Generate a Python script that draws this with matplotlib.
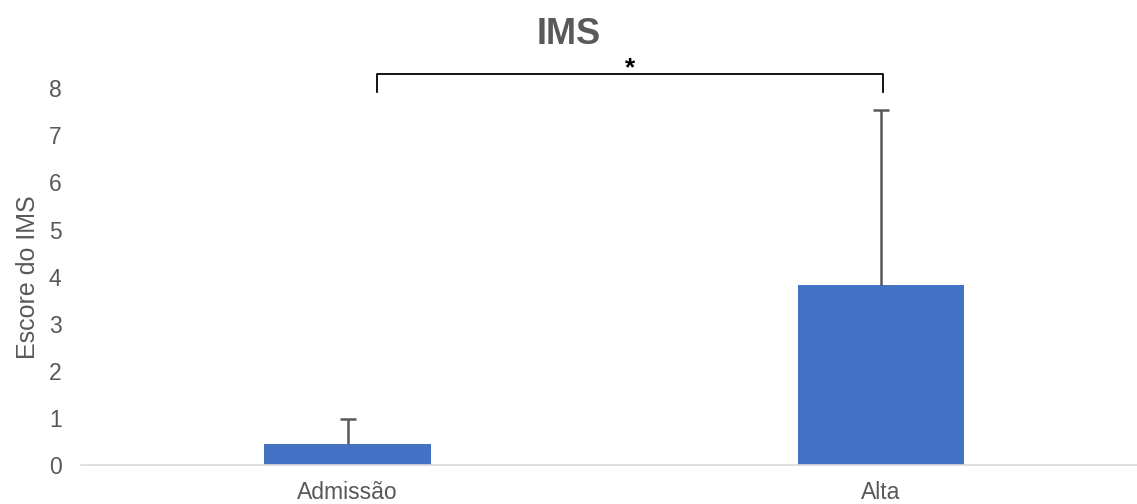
import matplotlib.pyplot as plt

plt.rcParams['font.family'] = ['Liberation Sans', 'DejaVu Sans']

# Dados
categorias = ['Admissão', 'Alta']
medias = [0.46, 3.82]
desvios = [0.52, 3.71]

cor_barra = '#4472C4'
cinza = '#595959'

fig = plt.figure(figsize=(11.37, 5.04), dpi=100)
ax = fig.add_axes([0.0712, 0.0764, 0.9288, 0.749])

x = range(len(categorias))
ax.bar(x, medias, width=0.313, color=cor_barra, zorder=2)
# so a barra de erro para cima
linha, caps, barras = ax.errorbar(x, medias, yerr=[[0, 0], desvios], fmt='none',
                                  ecolor=cinza, elinewidth=1.8, capsize=6,
                                  capthick=1.8, zorder=3)
caps[0].set_visible(False)

ax.set_xlim(-0.5, 1.48)
ax.set_ylim(0, 8)
ax.set_yticks(range(0, 9))
ax.set_xticks(list(x))
ax.set_xticklabels(categorias)

for lado in ['top', 'right', 'left']:
    ax.spines[lado].set_visible(False)
ax.spines['bottom'].set_color('#D9D9D9')
ax.spines['bottom'].set_linewidth(1.2)
ax.tick_params(axis='both', length=0, colors=cinza)
ax.tick_params(axis='y', labelsize=16.5, pad=14)
ax.tick_params(axis='x', labelsize=16.5, pad=11)
ax.set_ylabel('Escore do IMS', fontsize=18, color=cinza, labelpad=6)

fig.text(0.5, 1 - 34 / 504, 'IMS', ha='center', va='center',
         fontsize=26, fontweight='bold', color=cinza)

# colchete de significancia
ax.plot([0.055, 0.055, 1.004, 1.004], [7.91, 8.29, 8.29, 7.91],
        color='black', lw=1.3, clip_on=False, solid_joinstyle='round')
ax.text(0.53, 8.42, '*', ha='center', va='center', fontsize=19,
        fontweight='bold', color='black', clip_on=False)

fig.savefig('out.png', dpi=100)
